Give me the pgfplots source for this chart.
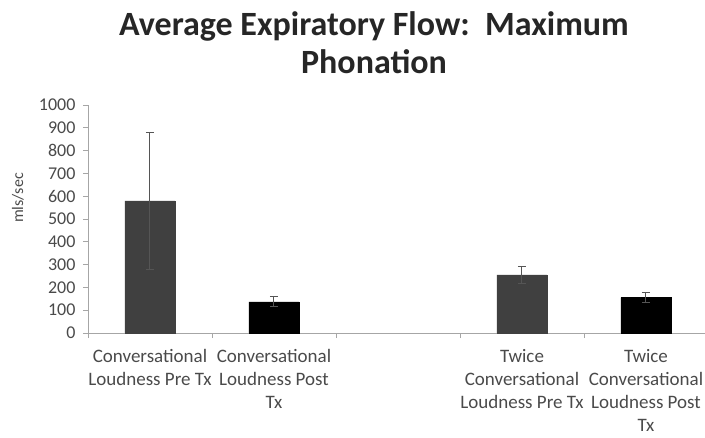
\documentclass[border=0pt]{standalone}
\usepackage{fontspec}
\setmainfont{Carlito}
\usepackage{pgfplots}
\pgfplotsset{compat=1.18}
\definecolor{darkbar}{HTML}{404040}
\definecolor{txtgray}{HTML}{4A4A4A}
\definecolor{axgray}{HTML}{A6A6A6}
\definecolor{errgray}{HTML}{555555}
\begin{document}
\begin{tikzpicture}[x=1pt,y=1pt]
\useasboundingbox (0,0) rectangle (705,437);
\node[align=center, font=\bfseries\fontsize{34}{38}\selectfont, text=black!85] at (374,394) {Average Expiratory Flow:\ \ Maximum\\Phonation};
\node[rotate=90, font=\fontsize{16}{19}\selectfont, text=txtgray] at (18,239) {mls/sec};
\begin{axis}[
  at={(88pt,104pt)}, anchor=south west,
  width=620pt, height=228pt, scale only axis,
  xmin=-0.5, xmax=4.5, ymin=0, ymax=1000,
  axis x line*=bottom, axis y line*=left,
  axis line style={draw=axgray, line width=0.8pt, -},
  ytick={0,100,...,1000},
  xtick={0,1,3,4},
  xticklabels={{Conversational\\Loudness Pre Tx},{Conversational\\Loudness Post\\Tx},{Twice\\Conversational\\Loudness Pre Tx},{Twice\\Conversational\\Loudness Post\\Tx}},
  minor xtick={-0.5,0.5,1.5,2.5,3.5,4.5},
  major x tick style={draw=none},
  minor x tick style={draw=axgray, line width=0.8pt},
  y tick style={draw=axgray, line width=0.8pt},
  tick align=outside,
  major tick length=5pt, minor tick length=5pt,
  /pgf/number format/assume math mode=true,
  /pgf/number format/1000 sep={},
  yticklabel style={font=\fontsize{18}{21}\selectfont, text=txtgray, xshift=-4pt},
  xticklabel style={font=\fontsize{19}{23}\selectfont, text=txtgray, align=center, yshift=-8pt},
  bar width=50pt,
  ybar, bar shift=0pt,
  clip=false,
]
\addplot[fill=darkbar, draw=darkbar, error bars/.cd, y dir=both, y explicit,
  error bar style={draw=errgray, line width=1pt},
  error mark options={rotate=90, mark size=4pt, draw=errgray, line width=1pt}]
  coordinates {(0,580) +- (0,300) (3,255) +- (0,37)};
\addplot[fill=black, draw=black, error bars/.cd, y dir=both, y explicit,
  error bar style={draw=errgray, line width=1pt},
  error mark options={rotate=90, mark size=4pt, draw=errgray, line width=1pt}]
  coordinates {(1,137) +- (0,22) (4,155) +- (0,22)};
\end{axis}
\end{tikzpicture}
\end{document}
